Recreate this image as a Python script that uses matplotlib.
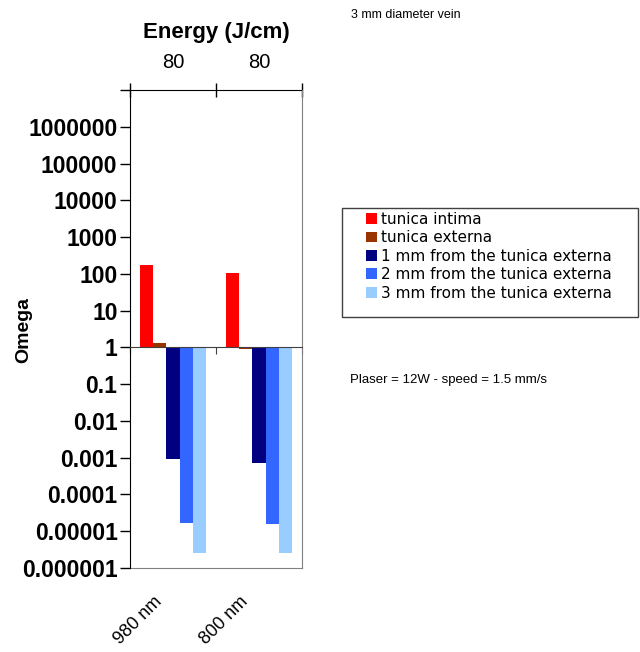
import matplotlib.pyplot as plt
import matplotlib.patches as mpatches
import matplotlib.transforms as mtransforms
import numpy as np

# Data
wavelengths = ['980 nm', '800 nm']
energies = ['80', '80']
series_names = ['tunica intima', 'tunica externa',
                '1 mm from the tunica externa',
                '2 mm from the tunica externa',
                '3 mm from the tunica externa']
tunica_intima = [178, 107]
tunica_externa = [1.3, 0.88]
mm1 = [0.0009, 0.0007]
mm2 = [1.7e-5, 1.6e-5]
mm3 = [2.6e-6, 2.6e-6]
series_values = [tunica_intima, tunica_externa, mm1, mm2, mm3]
colors = ['#FF0000', '#993300', '#000080', '#3366FF', '#99CCFF']

y_ticks = [1e-6, 1e-5, 1e-4, 1e-3, 1e-2, 1e-1, 1, 10, 100, 1000, 1e4, 1e5, 1e6, 1e7]
y_labels = ['0.000001', '0.00001', '0.0001', '0.001', '0.01', '0.1', '1', '10',
            '100', '1000', '10000', '100000', '1000000', '']

plt.rcParams['font.family'] = ['Liberation Sans', 'DejaVu Sans']

fig = plt.figure(figsize=(6.4, 6.52), dpi=100)
ax = fig.add_axes([130 / 640, 1 - 568 / 652, 172 / 640, 478 / 652])

x = np.arange(len(wavelengths))
width = 0.154
for i, (vals, col, name) in enumerate(zip(series_values, colors, series_names)):
    vals = np.array(vals)
    ax.bar(x + (i - 2) * width, vals - 1, bottom=1, width=width, color=col,
           label=name, linewidth=0)

ax.set_yscale('log')
ax.set_ylim(1e-6, 1e7)
ax.set_xlim(-0.5, 1.5)
ax.set_yticks(y_ticks, y_labels)
ax.yaxis.set_minor_locator(plt.NullLocator())
ax.tick_params(axis='y', labelsize=16.5, length=7, width=1, pad=2)
for lab in ax.get_yticklabels():
    lab.set_fontweight('bold')
fig.text(24 / 640, 1 - 330 / 652, 'Omega', fontsize=14, fontweight='bold',
         rotation=90, ha='center', va='center')

# category axis crossing at 1
ax.spines['bottom'].set_position(('data', 1))
ax.spines['bottom'].set_color('#404040')
ax.set_xticks([-0.5, 0.5, 1.5], ['', '', ''])
ax.tick_params(axis='x', direction='out', length=5, color='#404040')
ax.spines['right'].set_color('#808080')
ax.spines['top'].set_visible(False)
ax.patch.set_visible(False)

# plot area border (gray) bottom
bot = ax.secondary_xaxis('bottom')
bot.spines['bottom'].set_color('#808080')
bot.set_xticks(x, wavelengths)
bot.tick_params(length=0, pad=18, labelsize=13)
shift = mtransforms.ScaledTranslation(-20 / 100, 0, fig.dpi_scale_trans)
for lab in bot.get_xticklabels():
    lab.set_rotation(45)
    lab.set_ha('right')
    lab.set_rotation_mode('anchor')
    lab.set_transform(lab.get_transform() + shift)

# top energy axis
top = ax.secondary_xaxis('top')
top.set_xticks([-0.5, 0.5, 1.5], ['', '', ''])
top.set_xticks(x, energies, minor=True)
top.tick_params(which='major', direction='inout', length=10, width=1)
top.tick_params(which='minor', length=0, labelsize=14.5, pad=13)
top.set_xlabel('Energy (J/cm)', fontsize=16, fontweight='bold', labelpad=11)

# legend box
fig.patches.append(mpatches.Rectangle((342 / 640, 1 - 317 / 652), 296 / 640, 109 / 652,
                                      transform=fig.transFigure, fill=False,
                                      edgecolor='#404040', linewidth=1))
fig.legend(loc='upper left', bbox_to_anchor=(360 / 640, 1 - 206 / 652),
           frameon=False, prop={'family': 'DejaVu Sans', 'size': 11},
           handlelength=0.7, handleheight=0.7, handletextpad=0.3,
           labelspacing=0.22, borderaxespad=0)

fig.text(351 / 640, 1 - 15 / 652, '3 mm diameter vein', fontsize=9, va='center')
fig.text(350 / 640, 1 - 380 / 652, 'Plaser = 12W - speed = 1.5 mm/s', fontsize=9.5,
         va='center')

fig.savefig('out.png', dpi=100)
